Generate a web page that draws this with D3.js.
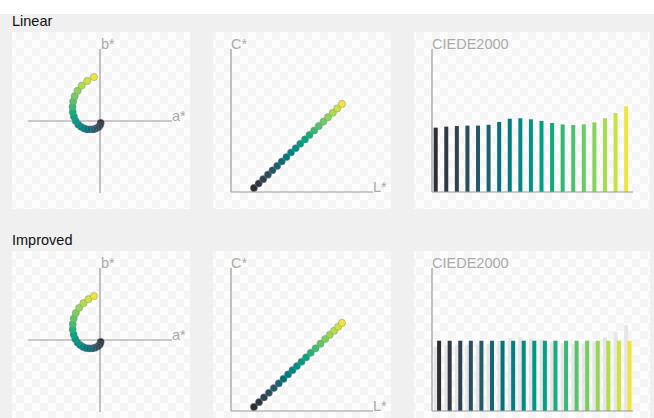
<!DOCTYPE html>
<html><head><meta charset="utf-8">
<script src="https://cdn.jsdelivr.net/npm/d3@7"></script>
<style>
html,body{margin:0;padding:0;background:#fff;}
svg{display:block;font-family:"Liberation Sans",Arial,Helvetica,sans-serif;}
</style></head>
<body><svg id="c" width="654" height="418"></svg>
<script>
// ---- data (CIE L*a*b* of each of the 20 swatches) ----
const rowTitles = ["Linear", "Improved"];
const linL = [18.6,22.4,26.1,29.9,33.6,37.4,41.1,44.9,48.6,52.4,56.1,59.9,63.6,67.4,71.1,74.9,78.6,82.4,86.1,89.9];
const linA = [1.2,0,-3.0,-7.8,-12.5,-17.9,-22.9,-28.4,-33.8,-38.7,-43.2,-46.4,-48.5,-48.9,-47.7,-45.0,-39.7,-32.5,-22.7,-10.7];
const linB = [-3.4,-7.6,-11.1,-13.4,-14.9,-15.0,-14.9,-13.1,-10.3,-6.1,0,7.8,16.1,25.3,34.7,44.1,53.9,63.0,71.3,78.1];
const impL = [18.6,22.7,26.7,30.7,34.7,38.7,42.5,46.2,49.8,53.4,57.1,60.8,64.6,68.5,72.5,76.3,80.0,83.5,86.8,89.9];
const impA = [1.2,-0.3,-3.8,-8.9,-14.1,-19.6,-25.0,-30.4,-35.4,-40.0,-44.0,-46.9,-48.6,-48.5,-46.7,-43.0,-37.0,-29.5,-20.5,-10.7];
const impB = [-3.4,-7.9,-11.5,-13.7,-14.9,-15.0,-14.2,-12.1,-9.0,-4.4,2.0,9.9,18.6,28.2,38.1,47.9,57.3,65.5,72.5,78.1];
// CIEDE2000 difference between consecutive swatches
const linDE = [3.15,3.20,3.23,3.25,3.25,3.29,3.43,3.59,3.61,3.56,3.48,3.38,3.31,3.28,3.31,3.41,3.61,3.87,4.20];
const impDE = [3.44,3.44,3.44,3.44,3.44,3.44,3.44,3.44,3.44,3.44,3.44,3.44,3.44,3.44,3.44,3.44,3.44,3.44,3.44];
const axisLabels = {a:"a*", b:"b*", L:"L*", C:"C*", d:"CIEDE2000"};

const svg = d3.select("#c");
const defs = svg.append("defs");
const pat = defs.append("pattern").attr("id","chk").attr("width",16).attr("height",16)
  .attr("patternUnits","userSpaceOnUse");
pat.append("rect").attr("width",16).attr("height",16).attr("fill","#fdfdfd");
pat.append("rect").attr("width",8).attr("height",8).attr("fill","#f5f5f5");
pat.append("rect").attr("x",8).attr("y",8).attr("width",8).attr("height",8).attr("fill","#f5f5f5");

svg.append("rect").attr("x",0).attr("y",14).attr("width",654).attr("height",404).attr("fill","#f0f0f0");

const AX = "#9a9a9a", LBL = "#aaaaaa";
const rows = [
  {title: rowTitles[0], L: linL, A: linA, B: linB, de: linDE, ghost: null},
  {title: rowTitles[1], L: impL, A: impA, B: impB, de: impDE, ghost: linDE}
];

rows.forEach((r, ri) => {
  const oy = ri * 219;
  const g = svg.append("g").attr("transform", `translate(0,${oy})`);
  g.append("text").attr("x",12).attr("y",26).attr("font-size",14.5).attr("fill","#111").text(r.title);
  const cols = r.L.map((l,i) => d3.lab(l, r.A[i], r.B[i]).formatHex());
  const ramp = d3.piecewise(d3.interpolateLab, cols);
  const C = r.A.map((a,i) => Math.hypot(a, r.B[i]));

  // panels
  [[12,178],[213,178],[414,236]].forEach(([x,w]) =>
    g.append("rect").attr("x",x).attr("y",32).attr("width",w).attr("height",177).attr("fill","url(#chk)"));

  // panel 1 : a*b*
  const xa = d3.scaleLinear().domain([-128,128]).range([28,172]);
  const yb = d3.scaleLinear().domain([-128,128]).range([193,49]);
  const p1 = g.append("g");
  p1.append("line").attr("x1",xa(-128)).attr("x2",xa(128)).attr("y1",yb(0)).attr("y2",yb(0)).attr("stroke",AX).attr("stroke-width",1.2);
  p1.append("line").attr("x1",xa(0)).attr("x2",xa(0)).attr("y1",yb(-128)).attr("y2",yb(128)).attr("stroke",AX).attr("stroke-width",1.2);
  p1.append("text").attr("x",xa(0)+1).attr("y",yb(128)).attr("font-size",14.5).attr("fill",LBL).text(axisLabels.b);
  p1.append("text").attr("x",xa(128)).attr("y",yb(0)).attr("font-size",14.5).attr("fill",LBL).text(axisLabels.a);
  p1.selectAll("circle").data(r.A).join("circle")
    .attr("cx",(d)=>xa(d)).attr("cy",(d,i)=>yb(r.B[i])).attr("r",3.6)
    .attr("fill",(d,i)=>cols[i]).attr("stroke","rgba(130,130,130,0.55)").attr("stroke-width",0.8);

  // panel 2 : L* vs C*
  const xl = d3.scaleLinear().domain([0,115]).range([231,373]);
  const yc = d3.scaleLinear().domain([0,128]).range([192,49]);
  const p2 = g.append("g");
  p2.append("line").attr("x1",xl(0)).attr("x2",xl(115)).attr("y1",yc(0)).attr("y2",yc(0)).attr("stroke",AX).attr("stroke-width",1.2);
  p2.append("line").attr("x1",xl(0)).attr("x2",xl(0)).attr("y1",yc(0)).attr("y2",yc(128)).attr("stroke",AX).attr("stroke-width",1.2);
  p2.append("text").attr("x",xl(0)).attr("y",yc(128)).attr("font-size",14.5).attr("fill",LBL).text(axisLabels.C);
  p2.append("text").attr("x",xl(115)).attr("y",yc(0)).attr("font-size",14.5).attr("fill",LBL).text(axisLabels.L);
  p2.selectAll("circle").data(r.L).join("circle")
    .attr("cx",(d)=>xl(d)).attr("cy",(d,i)=>yc(C[i])).attr("r",3.6)
    .attr("fill",(d,i)=>cols[i]).attr("stroke","rgba(130,130,130,0.55)").attr("stroke-width",0.8);

  // panel 3 : CIEDE2000 bars
  const idx = d3.range(r.de.length);
  const n = r.de.length - 1;
  const xd = d3.scaleBand().domain(idx).range([432,633]);
  const yd = d3.scaleLinear().domain([0,7]).range([192,49]);
  const p3 = g.append("g");
  if (r.ghost) {
    p3.selectAll("rect.gh").data(r.ghost).join("rect").attr("class","gh")
      .attr("x",(d,i)=>xd(i)+1.7).attr("width",4)
      .attr("y",(d)=>yd(d)).attr("height",(d)=>yd(0)-yd(d)).attr("fill","#e6e6e6");
  }
  const shift = r.ghost ? 3.4 : 0;
  p3.selectAll("rect.bar").data(r.de).join("rect").attr("class","bar")
    .attr("x",(d,i)=>xd(i)+1.7+shift).attr("width",4)
    .attr("y",(d)=>yd(d)).attr("height",(d)=>yd(0)-yd(d))
    .attr("fill",(d,i)=>ramp(i/n));
  p3.append("line").attr("x1",432).attr("x2",633).attr("y1",yd(0)).attr("y2",yd(0)).attr("stroke",AX).attr("stroke-width",1.2);
  p3.append("line").attr("x1",432).attr("x2",432).attr("y1",yd(0)).attr("y2",yd(7)).attr("stroke",AX).attr("stroke-width",1.2);
  p3.append("text").attr("x",432).attr("y",yd(7)).attr("font-size",14.5).attr("fill",LBL).text(axisLabels.d);
});
</script></body></html>
